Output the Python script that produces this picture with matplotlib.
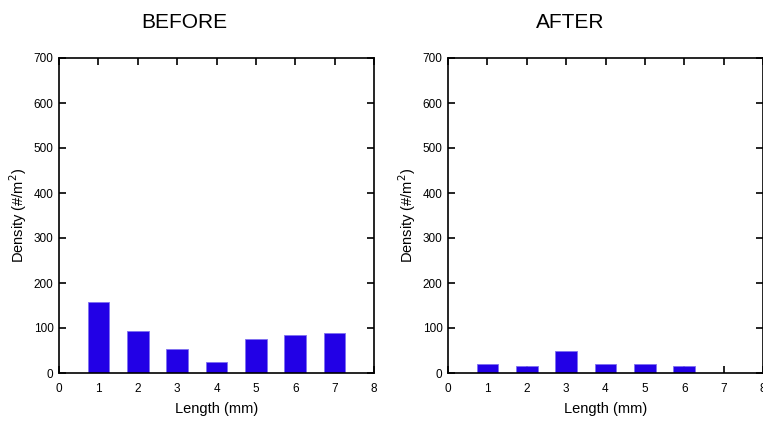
import matplotlib.pyplot as plt

# Data
lengths = [1, 2, 3, 4, 5, 6, 7]
before = [158, 93, 53, 24, 76, 85, 89]
after = [20, 15, 50, 20, 20, 15, 0]

plt.rcParams["font.family"] = ["Liberation Sans", "DejaVu Sans"]

fig = plt.figure(figsize=(7.63, 4.22), dpi=100)
W, H = 763, 422

panels = [
    ("BEFORE", before, 59, 184),
    ("AFTER", after, 448, 570),
]

for title, vals, left, title_x in panels:
    ax = fig.add_axes([left / W, (H - 373) / H, 315 / W, 315 / H])
    ax.bar(lengths, vals, width=0.55, color="#2200E6", edgecolor="#7F70F0",
           linewidth=0.6, zorder=2)
    ax.set_xlim(0, 8)
    ax.set_ylim(0, 700)
    ax.set_xticks(range(0, 9))
    ax.set_yticks(range(0, 701, 100))
    ax.tick_params(direction="in", top=True, right=True, length=5,
                   width=1.2, labelsize=8.5)
    ax.tick_params(axis="x", pad=7)
    ax.tick_params(axis="y", pad=4)
    for s in ax.spines.values():
        s.set_linewidth(1.2)
    ax.set_xlabel("Length (mm)", fontsize=10.5, labelpad=5)
    ax.set_ylabel("Density (#/m$^2$)", fontsize=10.5, labelpad=3)
    fig.text(title_x / W, 1 - 22 / H, title, fontsize=15,
             ha="center", va="center")

fig.savefig("out.png", dpi=100)
